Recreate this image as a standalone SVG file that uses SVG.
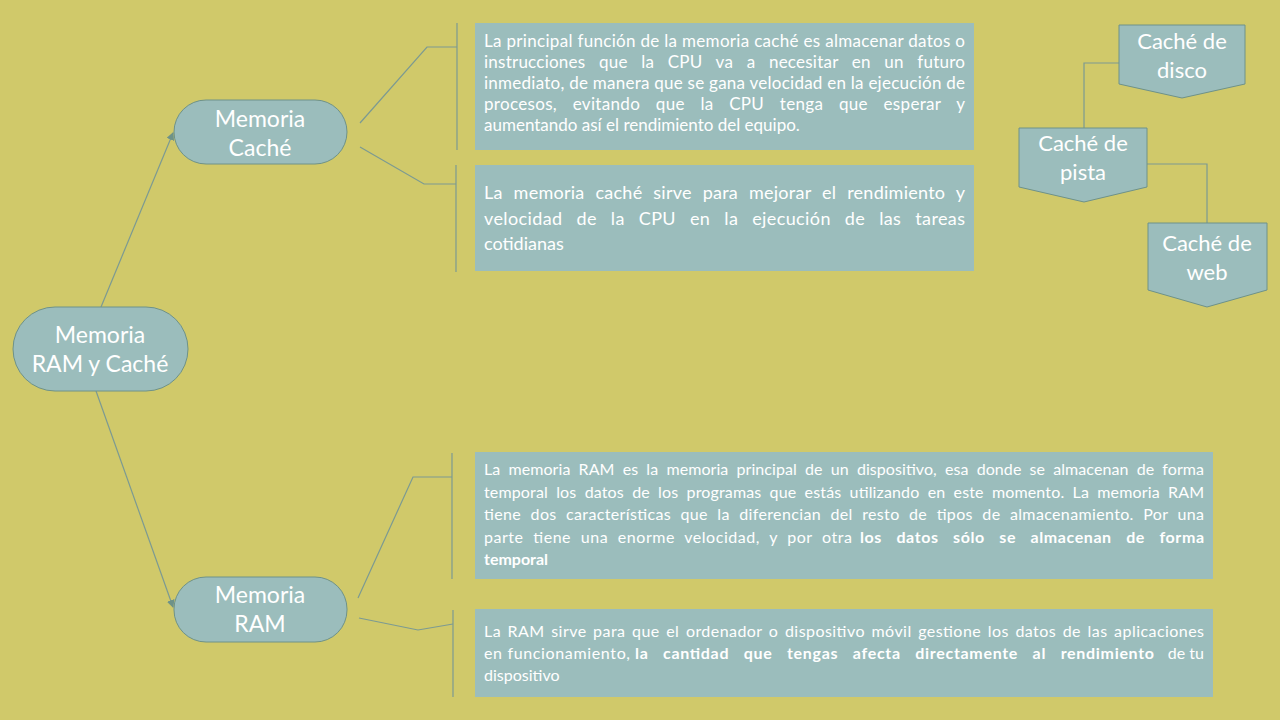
<svg xmlns="http://www.w3.org/2000/svg" width="1280" height="720" viewBox="0 0 1280 720">
<style>
.node{fill:#9BBDBC;stroke:#6E9289;stroke-width:1}
.box{fill:#9BBDBC}
.lbl{font-family:Lato,"Open Sans","DejaVu Sans",sans-serif;fill:#FFFFFF;text-anchor:middle;font-size:23px}
.lbl2{font-family:Lato,"Open Sans","DejaVu Sans",sans-serif;fill:#FFFFFF;text-anchor:middle;font-size:22px}
.t{font-family:Lato,"Open Sans","DejaVu Sans",sans-serif;fill:#FFFFFF;font-size:16px}
.t17{font-family:Lato,"Open Sans","DejaVu Sans",sans-serif;fill:#FFFFFF;font-size:17px}
.t18{font-family:Lato,"Open Sans","DejaVu Sans",sans-serif;fill:#FFFFFF;font-size:18px}
.b{font-weight:bold}
.c{fill:none;stroke:#7C9A92;stroke-width:1.2}
</style>
<defs>
<marker id="arr" markerWidth="8" markerHeight="8" refX="7" refY="4" orient="auto" markerUnits="userSpaceOnUse">
<path d="M0,0 L8,4 L0,8 Z" fill="#6E9289"/>
</marker>
</defs>
<rect width="1280" height="720" fill="#D0C96A"/>
<g id="connectors">
<line class="c" x1="101" y1="307" x2="173" y2="133" marker-end="url(#arr)"/>
<line class="c" x1="96" y1="391" x2="173" y2="607" marker-end="url(#arr)"/>
<polyline class="c" points="360,123 427,47 457,47"/>
<line class="c" x1="457" y1="23" x2="457" y2="150"/>
<polyline class="c" points="360,147 424,184 456,184"/>
<line class="c" x1="456" y1="165" x2="456" y2="272"/>
<polyline class="c" points="358,598 413,477 452,477"/>
<line class="c" x1="452" y1="453" x2="452" y2="579"/>
<polyline class="c" points="359,618 418,630 453,624"/>
<line class="c" x1="453" y1="610" x2="453" y2="697"/>
<polyline class="c" points="1119,63 1084,63 1084,128"/>
<polyline class="c" points="1147,164 1207,164 1207,223"/>
</g>
<g id="root">
<rect class="node" x="13" y="307" width="175" height="84" rx="42" ry="42"/>
<text class="lbl" x="100" y="343">Memoria</text>
<text class="lbl" x="100" y="372">RAM y Caché</text>
</g>
<g id="memoria-cache">
<rect class="node" x="174" y="100" width="173" height="64" rx="32" ry="32"/>
<text class="lbl" x="260" y="127">Memoria</text>
<text class="lbl" x="260" y="156">Caché</text>
</g>
<g id="memoria-ram">
<rect class="node" x="174" y="577" width="173" height="65" rx="32" ry="32"/>
<text class="lbl" x="260" y="603">Memoria</text>
<text class="lbl" x="260" y="632">RAM</text>
</g>
<g id="cache-texto-1">
<rect class="box" x="475" y="23" width="499" height="127"/>
<text class="t17" x="484" y="47" textLength="481" lengthAdjust="spacing">La principal función de la memoria caché es almacenar datos o</text>
<text class="t17" x="484" y="68" textLength="481" lengthAdjust="spacing" word-spacing="9">instrucciones que la CPU va a necesitar en un futuro</text>
<text class="t17" x="484" y="89" textLength="481" lengthAdjust="spacing">inmediato, de manera que se gana velocidad en la ejecución de</text>
<text class="t17" x="484" y="110" textLength="481" lengthAdjust="spacing" word-spacing="11">procesos, evitando que la CPU tenga que esperar y</text>
<text class="t17" x="484" y="131">aumentando así el rendimiento del equipo.</text>
</g>
<g id="cache-texto-2">
<rect class="box" x="475" y="165" width="499" height="106"/>
<text class="t18" x="484" y="199" textLength="481" lengthAdjust="spacing" word-spacing="6">La memoria caché sirve para mejorar el rendimiento y</text>
<text class="t18" x="484" y="225" textLength="481" lengthAdjust="spacing" word-spacing="9">velocidad de la CPU en la ejecución de las tareas</text>
<text class="t18" x="484" y="250">cotidianas</text>
</g>
<g id="ram-texto-1">
<rect class="box" x="475" y="452" width="738" height="127"/>
<text class="t" x="484" y="475" textLength="720" lengthAdjust="spacing" word-spacing="4">La memoria RAM es la memoria principal de un dispositivo, esa donde se almacenan de forma</text>
<text class="t" x="484" y="498" textLength="720" lengthAdjust="spacing" word-spacing="4">temporal los datos de los programas que estás utilizando en este momento. La memoria RAM</text>
<text class="t" x="484" y="520" textLength="720" lengthAdjust="spacing" word-spacing="5">tiene dos características que la diferencian del resto de tipos de almacenamiento. Por una</text>
<text class="t" x="484" y="543" textLength="368" lengthAdjust="spacing" word-spacing="5">parte tiene una enorme velocidad, y por otra</text>
<text class="t b" x="860" y="543" textLength="344" lengthAdjust="spacing" word-spacing="10">los datos sólo se almacenan de forma</text>
<text class="t b" x="484" y="565">temporal</text>
</g>
<g id="ram-texto-2">
<rect class="box" x="475" y="609" width="738" height="88"/>
<text class="t" x="484" y="637" textLength="720" lengthAdjust="spacing" word-spacing="2">La RAM sirve para que el ordenador o dispositivo móvil gestione los datos de las aplicaciones</text>
<text class="t" x="484" y="659" textLength="146" lengthAdjust="spacing">en funcionamiento,</text>
<text class="t b" x="635" y="659" textLength="519" lengthAdjust="spacing" word-spacing="10">la cantidad que tengas afecta directamente al rendimiento</text>
<text class="t" x="1204" y="659" text-anchor="end">de tu</text>
<text class="t" x="484" y="681">dispositivo</text>
</g>
<g id="cache-disco">
<polygon class="node" points="1119,25 1245,25 1245,84 1182,98 1119,84"/>
<text class="lbl2" x="1182" y="49">Caché de</text>
<text class="lbl2" x="1182" y="78">disco</text>
</g>
<g id="cache-pista">
<polygon class="node" points="1019,128 1147,128 1147,187 1084,202 1019,187"/>
<text class="lbl2" x="1083" y="151">Caché de</text>
<text class="lbl2" x="1083" y="180">pista</text>
</g>
<g id="cache-web">
<polygon class="node" points="1148,223 1267,223 1267,290 1207,307 1148,290"/>
<text class="lbl2" x="1207" y="251">Caché de</text>
<text class="lbl2" x="1207" y="280">web</text>
</g>
</svg>
